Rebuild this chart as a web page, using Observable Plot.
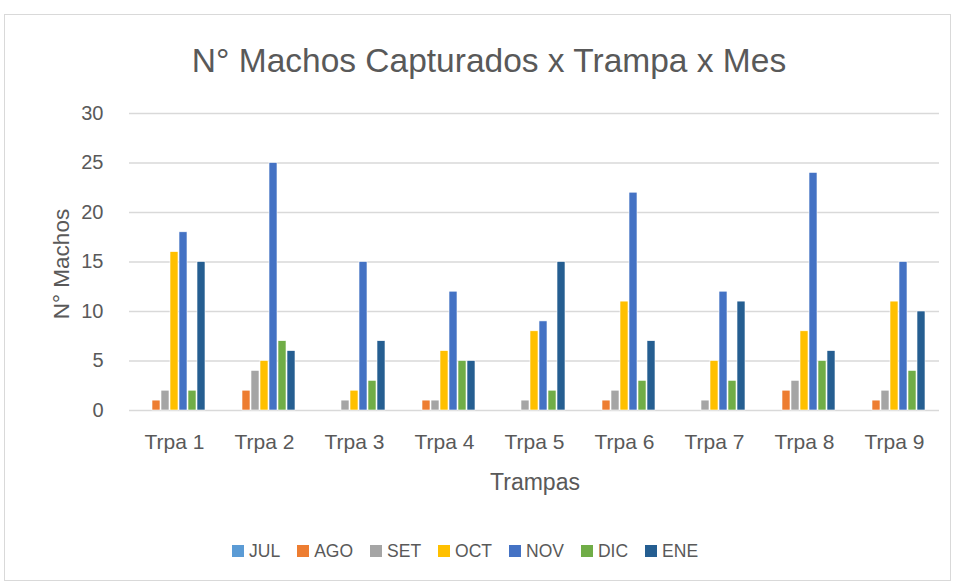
<!DOCTYPE html>
<html><head><meta charset="utf-8">
<script src="https://cdn.jsdelivr.net/npm/d3@7"></script>
<script src="https://cdn.jsdelivr.net/npm/@observablehq/plot@0.6"></script>
<style>
body{margin:0;background:#fff;font-family:"Liberation Sans",Arial,sans-serif;color:#595959}
#wrap{position:relative;width:954px;height:583px;overflow:hidden;background:#fff}
#frame{position:absolute;left:4px;top:14px;width:947px;height:567px;border:1px solid #d9d9d9;box-sizing:border-box}
#title{position:absolute;top:42px;left:0;width:978px;text-align:center;font-size:33.5px;line-height:38px;white-space:nowrap}
#chart{position:absolute;left:0;top:90px}
#ytitle{position:absolute;left:62px;top:264px;transform:translate(-50%,-50%) rotate(-90deg);font-size:22.5px;white-space:nowrap}
#xtitle{position:absolute;left:535px;top:482px;transform:translate(-50%,-50%);font-size:23px;white-space:nowrap}
#legend{position:absolute;left:232px;top:541px;height:20px;display:flex;align-items:center;font-size:17.5px;white-space:nowrap}
#legend .item{display:flex;align-items:center;margin-right:17px}
#legend .sw{width:12px;height:12px;margin-right:5px}
</style>
</head><body>
<div id="wrap">
<div id="frame"></div>
<div id="title">N° Machos Capturados x Trampa x Mes</div>
<div id="chart"></div>
<div id="ytitle">N° Machos</div>
<div id="xtitle">Trampas</div>
<div id="legend"></div>
</div>
<script>
const traps = ["Trpa 1","Trpa 2","Trpa 3","Trpa 4","Trpa 5","Trpa 6","Trpa 7","Trpa 8","Trpa 9"];
const months = ["JUL","AGO","SET","OCT","NOV","DIC","ENE"];
const colors = ["#5B9BD5","#ED7D31","#A5A5A5","#FFC000","#4472C4","#70AD47","#255E91"];
const JUL = [0,0,0,0,0,0,0,0,0];
const AGO = [1,2,0,1,0,1,0,2,1];
const SET = [2,4,1,1,1,2,1,3,2];
const OCT = [16,5,2,6,8,11,5,8,11];
const NOV = [18,25,15,12,9,22,12,24,15];
const DIC = [2,7,3,5,2,3,3,5,4];
const ENE = [15,6,7,5,15,7,11,6,10];
const yTicks = [0,5,10,15,20,25,30];

const seriesValues = [JUL, AGO, SET, OCT, NOV, DIC, ENE];
const data = traps.flatMap((t, i) => months.map((m, j) => ({trap: t, month: m, value: seriesValues[j][i]})));

const font = '"Liberation Sans", Arial, sans-serif';
const chart = Plot.plot({
  width: 954, height: 420,
  marginTop: 23, marginBottom: 100, marginLeft: 128, marginRight: 14,
  style: {fontSize: "20px", color: "#595959", fontFamily: font, background: "transparent"},
  fx: {domain: traps, padding: 0, label: null, tickSize: 0, tickPadding: 24, axis: "bottom", fontSize: 21},
  x: {domain: months, axis: null, paddingInner: 0.15, paddingOuter: 1.1},
  y: {domain: [0, 30], ticks: yTicks, label: null, tickSize: 0, tickPadding: 26},
  color: {domain: months, range: colors},
  marks: [
    Plot.ruleY(yTicks, {stroke: "#d9d9d9", strokeWidth: 1.5}),
    Plot.barY(data, {fx: "trap", x: "month", y: "value", fill: "month", stroke: "#ffffff", strokeWidth: 0.6})
  ]
});
chart.querySelectorAll("[aria-label='fx-axis tick label'] text, g[aria-label='fx-axis'] text").forEach(t => t.setAttribute("font-size", "21"));
document.getElementById("chart").appendChild(chart);

const leg = document.getElementById("legend");
const color = chart.scale("color");
months.forEach(m => {
  const item = document.createElement("div");
  item.className = "item";
  const sw = document.createElement("div");
  sw.className = "sw";
  sw.style.background = color.apply(m);
  const lab = document.createElement("span");
  lab.textContent = m;
  item.appendChild(sw); item.appendChild(lab);
  leg.appendChild(item);
});
</script>
</body></html>
